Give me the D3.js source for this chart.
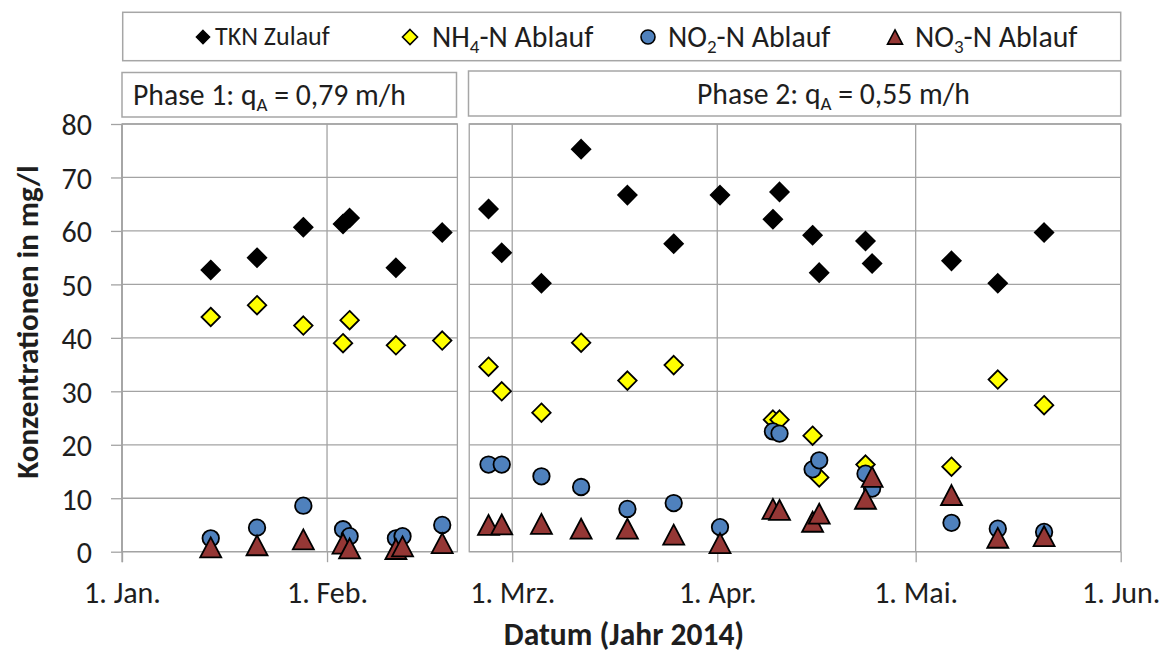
<!DOCTYPE html>
<html>
<head>
<meta charset="utf-8">
<script src="https://cdn.jsdelivr.net/npm/d3@7"></script>
<style>
  html, body { margin: 0; padding: 0; background: #ffffff; }
  svg { display: block; font-family: Carlito, Calibri, Lato, "Open Sans", sans-serif; }
</style>
</head>
<body>
<svg id="chart" width="1172" height="655"></svg>
<script>
// Sampling dates (2014) and measured concentrations in mg/l
const sampleDates = [
  "2014-01-14T10:00", "2014-01-21T10:00", "2014-01-28T10:00", "2014-02-03T10:00",
  "2014-02-04T10:00", "2014-02-11T10:00", "2014-02-12T10:00", "2014-02-18T10:00",
  "2014-02-25T10:00", "2014-02-27T10:00", "2014-03-05T10:00", "2014-03-11T10:00",
  "2014-03-18T10:00", "2014-03-25T10:00", "2014-04-01T10:00", "2014-04-09T10:00",
  "2014-04-10T10:00", "2014-04-15T10:00", "2014-04-16T10:00", "2014-04-23T10:00",
  "2014-04-24T10:00", "2014-05-06T10:00", "2014-05-13T10:00", "2014-05-20T10:00"
];
const tknZulauf = [52.7, 55.0, 60.7, 61.3, 62.4, 53.1, null, 59.7, 64.1, 55.9, 50.2, 75.3,
                   66.7, 57.6, 66.7, 62.2, 67.3, 59.2, 52.2, 58.1, 53.9, 54.4, 50.2, 59.7];
const nh4Ablauf = [43.9, 46.1, 42.3, 39.0, 43.3, 38.6, null, 39.5, 34.6, 30.0, 26.0, 39.1,
                   32.0, 34.9, null, 24.7, 24.7, 21.7, 13.9, 16.3, null, 15.9, 32.2, 27.4];
const no2Ablauf = [2.5, 4.5, 8.6, 4.2, 2.9, 2.5, 2.9, 5.0, 16.3, 16.3, 14.1, 12.1,
                   8.0, 9.1, 4.6, 22.5, 22.1, 15.4, 17.1, 14.6, 11.8, 5.4, 4.3, 3.7];
const no3Ablauf = [0.8, 1.2, 2.3, 1.5, 0.6, 0.5, 1.0, 1.6, 5.0, 5.1, 5.2, 4.3,
                   4.3, 3.2, 1.6, 8.0, 7.8, 5.6, 7.1, 9.9, 14.0, 10.6, 2.6, 2.9];

// Axis ticks
const yTicks = [0, 10, 20, 30, 40, 50, 60, 70, 80];
const monthTicks = ["2014-01-01", "2014-02-01", "2014-03-01", "2014-04-01", "2014-05-01", "2014-06-01"];
const monthLabels = ["1. Jan.", "1. Feb.", "1. Mrz.", "1. Apr.", "1. Mai.", "1. Jun."];

// Operating phases (surface loading rate q_A in m/h)
const phaseNames = ["Phase 1", "Phase 2"];
const phaseRates = ["0,79", "0,55"];
const phaseStart = ["2014-01-01T00:00", "2014-02-22T12:00"];
const phaseEnd = ["2014-02-20T17:00", "2014-06-01T00:00"];

const seriesNames = ["TKN Zulauf", "NH4-N Ablauf", "NO2-N Ablauf", "NO3-N Ablauf"];

const parse = d3.isoParse;
const svg = d3.select("#chart");

const x = d3.scaleTime()
  .domain([parse(monthTicks[0]), parse(monthTicks[monthTicks.length - 1])])
  .range([122, 1120.7]);
const y = d3.scaleLinear().domain([0, 80]).range([551.7, 124]);

const gridColor = "#a3a3a3";
const boxColor = "#a6a6a6";
const textColor = "#1e1e1e";

// ---- marker shapes ----
const triangleUp = {
  draw(ctx, size) {
    const w = Math.sqrt(size);      // base width
    const h = w * 0.95;             // height
    ctx.moveTo(0, -h / 2);
    ctx.lineTo(w / 2, h / 2);
    ctx.lineTo(-w / 2, h / 2);
    ctx.closePath();
  }
};
const diamond = {
  draw(ctx, size) {
    const r = Math.sqrt(size) / 2;  // half diagonal
    ctx.moveTo(0, -r);
    ctx.lineTo(r, 0);
    ctx.lineTo(0, r);
    ctx.lineTo(-r, 0);
    ctx.closePath();
  }
};
const circle = {
  draw(ctx, size) {
    const r = Math.sqrt(size) / 2;
    ctx.moveTo(r, 0);
    ctx.arc(0, 0, r, 0, 2 * Math.PI);
  }
};

const styles = [
  { type: diamond, size: 18.5 * 18.5, fill: "#000000", stroke: "#000000", legendSize: 13 * 13 },
  { type: diamond, size: 18.5 * 18.5, fill: "#ffff00", stroke: "#000000", legendSize: 15 * 15 },
  { type: circle, size: 16.5 * 16.5, fill: "#4f81bd", stroke: "#000000", legendSize: 14 * 14 },
  { type: triangleUp, size: 21 * 21, fill: "#953735", stroke: "#000000", legendSize: 15 * 15 }
];
const seriesValues = [tknZulauf, nh4Ablauf, no2Ablauf, no3Ablauf];

// ---- panels with grid ----
phaseNames.forEach((name, i) => {
  const x0 = x(parse(phaseStart[i])), x1 = x(parse(phaseEnd[i]));
  const g = svg.append("g");
  g.selectAll("line.h").data(yTicks).join("line")
    .attr("x1", x0).attr("x2", x1)
    .attr("y1", d => y(d)).attr("y2", d => y(d))
    .attr("stroke", gridColor).attr("stroke-width", 1.3);
  const inner = monthTicks.map(parse).filter(d => x(d) >= x0 - 0.5 && x(d) <= x1 + 0.5);
  g.selectAll("line.v").data(inner).join("line")
    .attr("x1", d => x(d)).attr("x2", d => x(d))
    .attr("y1", y(80)).attr("y2", y(0))
    .attr("stroke", gridColor).attr("stroke-width", 1.3);
  g.append("rect")
    .attr("x", x0).attr("y", y(80))
    .attr("width", x1 - x0).attr("height", y(0) - y(80))
    .attr("fill", "none").attr("stroke", gridColor).attr("stroke-width", 1.3);
});

// ---- axes ----
const yAxis = d3.axisLeft(y).tickValues(yTicks).tickSize(11).tickSizeOuter(0).tickPadding(19)
  .tickFormat(d3.format("d"));
const yG = svg.append("g").attr("transform", `translate(${x.range()[0]},0)`).call(yAxis)
  .attr("font-family", null).attr("font-size", null);
yG.select(".domain").attr("stroke", gridColor).attr("stroke-width", 1.3)
  .attr("d", `M0,${y(80)}V${y(0) + 10.5}`);
yG.selectAll(".tick line").attr("stroke", gridColor).attr("stroke-width", 1.3);
yG.selectAll(".tick text")
  .attr("font-size", 30).attr("fill", textColor).attr("dy", "0.36em");

const xAxis = d3.axisBottom(x).tickValues(monthTicks.map(parse)).tickSize(10.5).tickSizeOuter(0)
  .tickPadding(20).tickFormat((d, i) => monthLabels[i]);
const xG = svg.append("g").attr("transform", `translate(0,${y(0)})`).call(xAxis)
  .attr("font-family", null).attr("font-size", null);
xG.select(".domain").remove();
xG.selectAll(".tick line").attr("stroke", gridColor).attr("stroke-width", 1.3);
xG.selectAll(".tick text")
  .attr("font-size", 30).attr("fill", textColor);

// axis titles
svg.append("text")
  .attr("transform", `translate(38,322) rotate(-90)`)
  .attr("text-anchor", "middle").attr("font-weight", "bold").attr("font-size", 31)
  .attr("fill", textColor)
  .text("Konzentrationen in mg/l");
svg.append("text")
  .attr("x", 624).attr("y", 645)
  .attr("text-anchor", "middle").attr("font-weight", "bold").attr("font-size", 31.5)
  .attr("fill", textColor)
  .text("Datum (Jahr 2014)");

// ---- data points ----
seriesValues.forEach((vals, si) => {
  const st = styles[si];
  const pts = vals.map((v, i) => ({ date: parse(sampleDates[i]), value: v }))
    .filter(d => d.value !== null);
  svg.append("g").selectAll("path").data(pts).join("path")
    .attr("transform", d => `translate(${x(d.date)},${y(d.value)})`)
    .attr("d", d3.symbol(st.type, st.size)())
    .attr("fill", st.fill).attr("stroke", st.stroke).attr("stroke-width", 1.8)
    .attr("stroke-linejoin", "miter");
});

// ---- phase label boxes ----
const phaseBoxes = [
  { x0: 122, x1: 456.5, y0: 72.5, y1: 117, tx: 133, by: 105 },
  { x0: 468.5, x1: 1120.7, y0: 71, y1: 116, tx: 697, by: 104 }
];
phaseNames.forEach((name, i) => {
  const b = phaseBoxes[i];
  svg.append("rect")
    .attr("x", b.x0).attr("y", b.y0).attr("width", b.x1 - b.x0).attr("height", b.y1 - b.y0)
    .attr("fill", "#fff").attr("stroke", boxColor).attr("stroke-width", 1.5);
  const t = svg.append("text")
    .attr("x", b.tx).attr("y", b.by)
    .attr("font-size", 29.7).attr("fill", textColor);
  t.append("tspan").text(`${name}: q`);
  t.append("tspan").attr("font-size", 19).attr("dy", 6).text("A");
  t.append("tspan").attr("dy", -6).text(` = ${phaseRates[i]} m/h`);
});

// ---- legend ----
svg.append("rect")
  .attr("x", 122.7).attr("y", 12.3).attr("width", 998).attr("height", 48.4)
  .attr("fill", "#fff").attr("stroke", boxColor).attr("stroke-width", 1.5);

const legendPos = [
  { mx: 203, tx: 215, fs: 26, by: 45 },
  { mx: 410, tx: 432, fs: 29.8, by: 47 },
  { mx: 648, tx: 668, fs: 29.8, by: 47 },
  { mx: 895, tx: 915, fs: 29.8, by: 47 }
];
seriesNames.forEach((name, i) => {
  const st = styles[i], lp = legendPos[i];
  svg.append("path")
    .attr("transform", `translate(${lp.mx},37)`)
    .attr("d", d3.symbol(st.type, st.legendSize)())
    .attr("fill", st.fill).attr("stroke", st.stroke).attr("stroke-width", 1.6);
  const t = svg.append("text").attr("x", lp.tx).attr("y", lp.by)
    .attr("font-size", lp.fs).attr("fill", textColor);
  const m = name.match(/^(NH|NO)(\d)(.*)$/);
  if (m) {
    t.append("tspan").text(m[1]);
    t.append("tspan").attr("font-size", 19).attr("dy", 6).text(m[2]);
    t.append("tspan").attr("dy", -6).text(m[3]);
  } else {
    t.text(name);
  }
});
</script>
</body>
</html>
